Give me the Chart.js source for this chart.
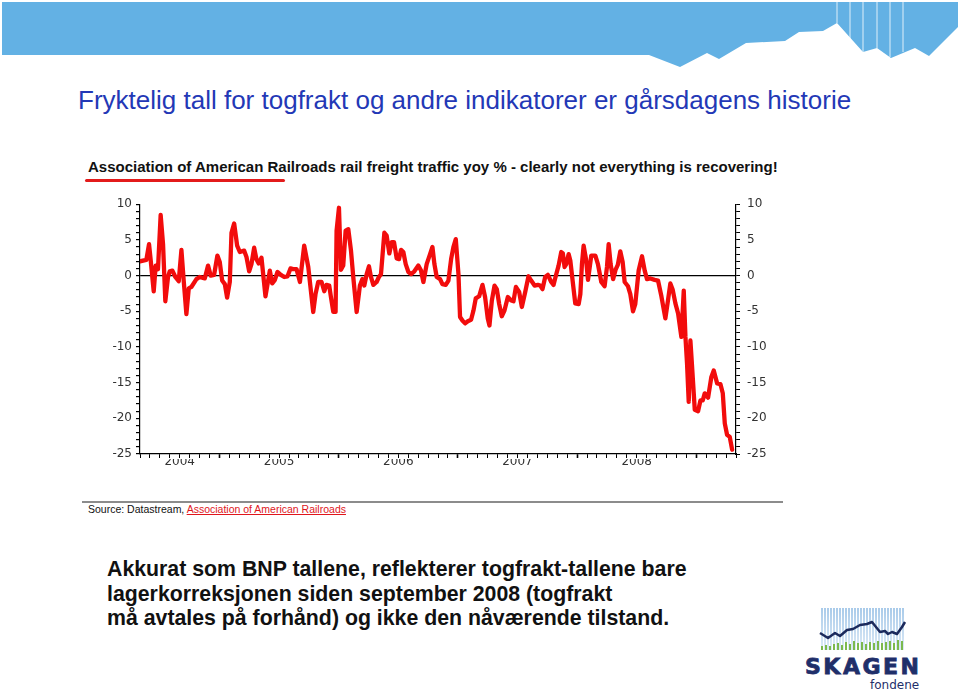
<!DOCTYPE html>
<html lang="no">
<head>
  <meta charset="utf-8">
  <title>Togfrakt yoy %</title>
  <script src="https://cdn.jsdelivr.net/npm/chart.js@4.4.1/dist/chart.umd.min.js"></script>
  <style>
    html, body { margin: 0; padding: 0; background: #fff; }
    body { width: 960px; height: 690px; position: relative; overflow: hidden; font-family: "Liberation Sans", Arial, sans-serif; }
    .abs { position: absolute; white-space: nowrap; }
    #title { left: 78px; top: 85px; font-size: 26px; color: #2338b6; }
    #head { left: 88px; top: 158px; font-size: 15px; font-weight: bold; color: #111; }
    #headline { left: 85px; top: 179px; width: 200px; height: 3px; background: #e31b1b; border-radius: 2px; }
    #rule { left: 82px; top: 501px; width: 701px; height: 2px; background: #8c8c8c; }
    #source { left: 88px; top: 503px; font-size: 10.5px; color: #111; }
    #source span { color: #e0161c; text-decoration: underline; }
    #body { left: 107px; top: 557px; font-size: 21.3px; font-weight: bold; line-height: 24.7px; color: #111; }
    #chartbox { left: 100px; top: 190px; }
  </style>
</head>
<body>
  <svg class="abs" style="left:0;top:0" width="960" height="70">
    <polygon fill="#63b1e4" points="2,2 958,2 958,27 929,56 915,48 891,58 877,48 863,52 837,23 823,31 799,32 785,41 746,43 719,59 707,53 680,67 649,55 2,55"/>
    <g stroke="#ffffff" stroke-width="1" opacity="0.8">
      <line x1="837" y1="2" x2="837" y2="23"/>
      <line x1="850" y1="2" x2="850" y2="40"/>
      <line x1="863" y1="2" x2="863" y2="52"/>
      <line x1="877" y1="2" x2="877" y2="48"/>
      <line x1="890" y1="2" x2="890" y2="57"/>
      <line x1="903" y1="2" x2="903" y2="52"/>
    </g>
  </svg>

  <div class="abs" id="title">Fryktelig tall for togfrakt og andre indikatorer er gårsdagens historie</div>
  <div class="abs" id="head">Association of American Railroads rail freight traffic yoy % - clearly not everything is recovering!</div>
  <div class="abs" id="headline"></div>

  <div class="abs" id="chartbox"><canvas id="chart-0" width="680" height="290"></canvas></div>

  <div class="abs" id="rule"></div>
  <div class="abs" id="source">Source: Datastream, <span>Association of American Railroads</span></div>

  <div class="abs" id="body">Akkurat som BNP tallene, reflekterer togfrakt-tallene bare<br>lagerkorreksjonen siden september 2008 (togfrakt<br>må avtales på forhånd) og ikke den nåværende tilstand.</div>

  <svg class="abs" style="left:800px;top:600px" width="160" height="90">
    <defs>
      <pattern id="stripes" width="3" height="10" patternUnits="userSpaceOnUse">
        <rect width="2" height="10" fill="#a9cbea"/>
      </pattern>
      <linearGradient id="fade" x1="0" y1="0" x2="0" y2="1">
        <stop offset="0" stop-color="#fff" stop-opacity="0"/>
        <stop offset="1" stop-color="#fff" stop-opacity="0.6"/>
      </linearGradient>
    </defs>
    <rect x="20" y="8" width="85" height="42" fill="url(#stripes)"/>
    <rect x="20" y="8" width="85" height="42" fill="url(#fade)"/>
    <g fill="#7cb94e">
      <rect x="21" y="46" width="2" height="4"/><rect x="25" y="45" width="2" height="5"/>
      <rect x="29" y="46" width="2" height="4"/><rect x="33" y="44" width="2" height="6"/>
      <rect x="37" y="43" width="2" height="7"/><rect x="41" y="45" width="2" height="5"/>
      <rect x="45" y="42" width="2" height="8"/><rect x="49" y="44" width="2" height="6"/>
      <rect x="53" y="41" width="2" height="9"/><rect x="57" y="43" width="2" height="7"/>
      <rect x="61" y="42" width="2" height="8"/><rect x="65" y="44" width="2" height="6"/>
      <rect x="69" y="42" width="2" height="8"/><rect x="73" y="43" width="2" height="7"/>
      <rect x="77" y="41" width="2" height="9"/><rect x="81" y="43" width="2" height="7"/>
      <rect x="85" y="42" width="2" height="8"/><rect x="89" y="41" width="2" height="9"/>
      <rect x="93" y="43" width="2" height="7"/><rect x="97" y="40" width="2" height="10"/>
      <rect x="101" y="41" width="2" height="9"/>
    </g>
    <polyline fill="none" stroke="#1c2a5c" stroke-width="2.5" stroke-linejoin="round"
      points="20,33 28,38 35,33 40,36 47,30 53,29 60,25 67,24 72,22 80,32 85,31 88,34 92,32 97,34 102,27 105,22"/>
    <text x="5" y="74" font-family="DejaVu Sans" font-weight="bold" font-size="22" letter-spacing="2.5" fill="#1f2f6a" stroke="#1f2f6a" stroke-width="0.8">SKAGEN</text>
    <text x="70" y="89" font-family="DejaVu Sans" font-size="12" fill="#1f2f6a">fondene</text>
  </svg>

  <script>
    // months since Jan 2004 (0 = Jan 2004), yoy % change
    let months = [
      4.0, 4.64, 4.91, 5.08, 5.38, 5.58, 5.81, 6.08, 6.32, 6.55, 6.82, 6.99, 7.26, 7.56, 7.90,
      8.17, 8.40, 8.67, 8.91, 9.17, 9.68, 10.01, 10.52, 10.85, 11.12, 11.46, 11.79,
      12.03, 12.27, 12.54, 12.77, 13.04, 13.21, 13.48, 13.78, 14.05, 14.48, 14.72, 14.99,
      15.22, 15.49, 15.72, 15.95, 16.23, 16.63, 17.07, 17.31, 17.58, 17.84, 18.18, 18.52,
      18.85, 19.15, 19.42, 19.76, 20.10, 20.53, 20.94, 21.20, 21.44, 21.67, 21.94, 22.28,
      22.55, 22.78, 23.05, 23.22, 23.46, 23.69, 23.79, 24.03, 24.23, 24.46, 24.70, 24.97,
      25.24, 25.47, 25.81, 26.14, 26.38, 26.58, 26.82, 27.05, 27.25, 27.49, 27.82, 28.05,
      28.26, 28.60, 28.83, 29.10, 29.34, 29.57, 29.84, 30.08, 30.28, 30.51, 30.75, 31.02,
      31.29, 31.62, 32.02, 32.29, 32.53, 32.86, 33.20, 33.44, 33.64, 33.87, 34.21, 34.44,
      34.78, 35.05, 35.32, 35.55, 35.79, 36.06, 36.22, 36.46, 36.73, 37.00, 37.33, 37.57,
      37.80, 38.14, 38.48, 38.74, 39.01, 39.18, 39.42, 39.69, 39.92, 40.16, 40.42, 40.69,
      41.03, 41.37, 41.60, 41.84, 42.17, 42.44, 42.78, 43.11, 43.38, 43.72, 44.05, 44.29,
      44.52, 44.79, 45.06, 45.40, 45.63, 45.87, 46.14, 46.41, 46.57, 46.74, 46.91, 47.15,
      47.32, 47.55, 47.82, 48.16, 48.33, 48.49, 48.66, 48.90, 49.10, 49.43, 49.84, 50.10,
      50.44, 50.77, 51.01, 51.18, 51.38, 51.63, 51.87, 52.10, 52.35, 52.59, 52.79, 53.13,
      53.36, 53.63, 53.86, 54.20, 54.54, 54.81, 55.04, 55.38, 55.81, 56.15, 56.49, 56.89,
      57.13, 57.39, 57.63, 57.90, 58.17, 58.50, 58.74, 58.91, 59.07, 59.24, 59.41, 59.58,
      59.85, 60.18, 60.42, 60.65, 60.85, 61.19, 61.52, 61.76, 62.10, 62.43, 62.67, 62.87,
      63.10, 63.37, 63.61
    ];
    let yoy = [
      2.0, 2.2, 4.4, 2.1, -2.2, 1.4, 0.9, 8.5, 4.4, -3.6, -0.2, 0.6, 0.7, -0.2, -0.8,
      3.6, -0.7, -5.4, -1.8, -1.6, -0.5, -0.2, -0.4, 1.4, 0.0, 0.1, 2.8,
      1.9, -0.7, -1.2, -3.1, -0.9, 6.0, 7.3, 4.2, 3.3, 3.5, 2.6, 0.6,
      1.6, 3.9, 2.3, 1.7, 2.5, -2.9, 0.7, -1.1, -0.6, 0.5, 0.1, -0.2,
      -0.1, 1.0, 0.9, 0.9, -0.9, 4.2, 1.2, -2.1, -5.1, -2.6, -0.9, -0.9,
      -2.2, -1.3, -1.4, -3.0, -5.1, -5.1, 6.3, 9.5, 0.8, 1.4, 6.3, 6.5,
      3.5, -0.2, -5.1, -1.4, -0.5, -1.4, 0.2, 1.3, -0.2, -1.3, -0.9, -0.2,
      0.2, 6.0, 5.6, 3.1, 4.7, 4.7, 2.4, 2.3, 3.6, 3.3, 1.6, 0.5,
      0.2, 0.6, 1.4, 0.7, -0.9, 1.6, 3.0, 4.0, 1.6, -0.2, -0.5, -1.2,
      -1.3, -0.7, 2.3, 4.0, 5.1, 0.2, -5.8, -6.3, -6.7, -6.4, -6.2, -4.9,
      -3.2, -2.9, -1.3, -3.0, -6.0, -7.0, -3.5, -1.4, -1.9, -4.0, -5.7, -4.9,
      -3.0, -3.5, -3.6, -1.6, -2.3, -4.4, -2.3, -0.1, -0.7, -1.4, -1.3, -1.4,
      -1.9, -0.2, 0.1, -0.9, -1.3, 0.0, 1.4, 3.3, 3.1, 1.2, 1.6, 3.0,
      2.1, -0.7, -3.9, -4.0, -2.6, 1.6, 4.2, 2.3, -0.6, 2.8, 2.8, 1.6,
      -0.9, -1.5, 1.2, 4.4, 1.6, -0.5, 0.8, 1.5, 3.4, 1.9, -0.9, -1.5,
      -2.6, -5.0, -4.0, 0.7, 2.7, 0.7, -0.5, -0.4, -0.6, -0.7, -2.9, -6.0,
      -3.7, -1.1, -2.0, -3.9, -5.3, -8.6, -2.1, -8.6, -12.3, -17.7, -9.1, -12.8,
      -18.8, -19.0, -17.5, -17.5, -16.5, -17.1, -14.2, -13.3, -15.1, -15.2, -16.5, -20.7,
      -22.3, -22.6, -24.4
    ];
    let yearLabels = ['2004', '2005', '2006', '2007', '2008'];
    let yearLabelAt = [8, 18, 30, 42, 54];   // middle of each visible year, in months
    let yTickStep = 1, yLabelStep = 5;

    let points = months.map((m, i) => ({x: m, y: yoy[i]}));
    let tickFont = {family: 'DejaVu Sans', size: 12};

    function yTicks(axis) {
      let t = [];
      for (let v = axis.min; v <= axis.max; v += yTickStep) t.push({value: v});
      axis.ticks = t;
    }
    let yLabel = v => (v % yLabelStep === 0 ? String(v) : '');

    new Chart('chart-0', {
      type: 'line',
      data: {
        datasets: [{
          label: 'yoy %',
          data: points,
          borderColor: '#f20c0c',
          borderWidth: 4.3,
          borderJoinStyle: 'round',
          borderCapStyle: 'round',
          pointRadius: 0,
          tension: 0,
          fill: false
        }]
      },
      options: {
        responsive: false,
        animation: false,
        layout: {padding: {top: 13, left: 0, right: 0, bottom: 0}},
        plugins: {legend: {display: false}, tooltip: {enabled: false}},
        scales: {
          x: {
            type: 'linear', position: 'bottom', weight: 0, min: 4, max: 64,
            afterBuildTicks: axis => {
              let t = [];
              for (let m = 4; m <= 64; m++) t.push({value: m});
              axis.ticks = t;
            },
            afterFit: axis => { axis.height = 5; },
            ticks: {display: false},
            grid: {drawOnChartArea: false, tickLength: 4, color: '#000',
                   tickWidth: ctx => (ctx.tick && ctx.tick.value % 12 === 0 ? 1.6 : 1)},
            border: {color: '#000', width: 1.2}
          },
          xYear: {
            type: 'linear', position: 'bottom', weight: 1, min: 4, max: 64,
            afterBuildTicks: axis => { axis.ticks = yearLabelAt.map(v => ({value: v})); },
            afterFit: axis => { axis.height = 21; },
            ticks: {
              autoSkip: false, maxRotation: 0, padding: -4, color: '#333', font: tickFont,
              callback: v => yearLabels[yearLabelAt.indexOf(v)]
            },
            grid: {display: false, drawTicks: false},
            border: {display: false}
          },
          y: {
            type: 'linear', position: 'left', min: -25, max: 10,
            afterBuildTicks: yTicks,
            afterFit: axis => { axis.width = 40; },
            ticks: {autoSkip: false, padding: 4, color: '#333', font: tickFont, callback: yLabel},
            grid: {
              color: ctx => (ctx.tick && ctx.tick.value === 0 ? '#000' : 'rgba(0,0,0,0)'),
              tickColor: '#000', tickLength: 4, lineWidth: 1.2
            },
            border: {color: '#000', width: 1.2}
          },
          y2: {
            type: 'linear', position: 'right', min: -25, max: 10,
            afterBuildTicks: yTicks,
            afterFit: axis => { axis.width = 44; },
            ticks: {autoSkip: false, padding: 7, color: '#333', font: tickFont, callback: yLabel},
            grid: {drawOnChartArea: false, tickColor: '#000', tickLength: 4},
            border: {color: '#000', width: 1.2}
          }
        }
      }
    });
  </script>
</body>
</html>
